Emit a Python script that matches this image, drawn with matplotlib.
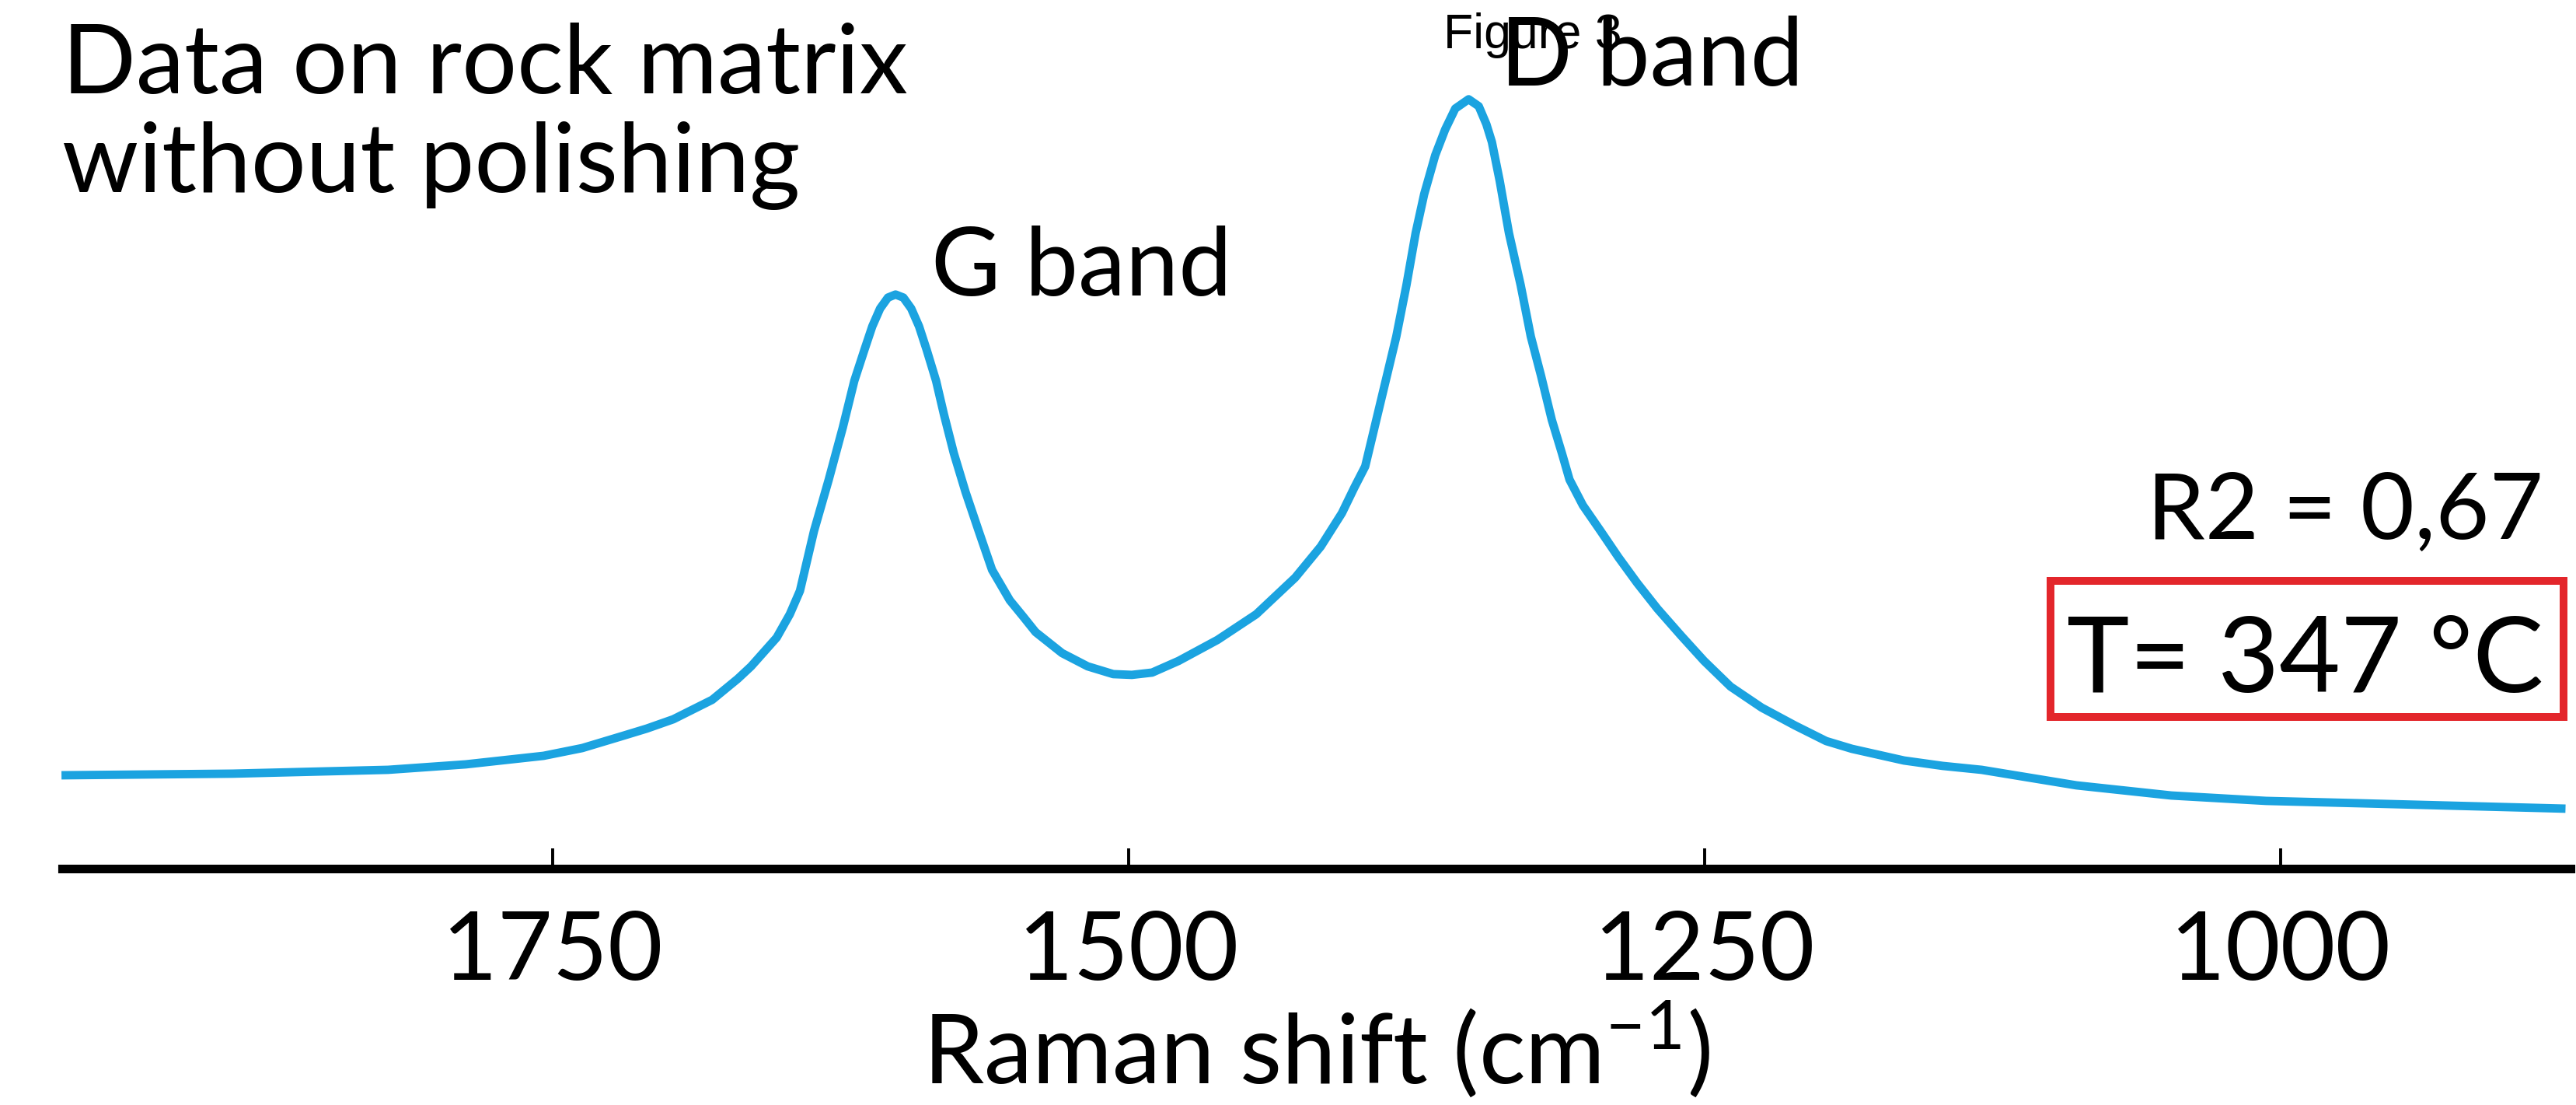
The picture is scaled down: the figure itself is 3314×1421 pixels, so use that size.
import matplotlib
matplotlib.use('Agg')
from matplotlib import pyplot as plt
from matplotlib.patches import Rectangle

plt.rcParams['font.family'] = ['Lato', 'DejaVu Sans']
plt.rcParams['mathtext.fontset'] = 'custom'
plt.rcParams['mathtext.rm'] = 'Lato'
plt.rcParams['mathtext.it'] = 'Lato'

# Raman spectrum (wavenumber in cm-1, intensity in a.u.)
shift = [1963.3, 1889.0, 1821.5, 1787.8, 1754.0, 1737.2, 1720.3, 1709.2, 1697.7,
         1680.8, 1669.7, 1663.9, 1652.8, 1647.1, 1642.7, 1636.6, 1630.2, 1624.1,
         1619.1, 1614.7, 1611.3, 1607.9, 1604.5, 1601.2, 1597.8, 1594.4, 1591.0,
         1587.7, 1583.6, 1580.2, 1575.9, 1570.8, 1565.1, 1559.3, 1551.6, 1545.8,
         1540.4, 1528.9, 1517.8, 1506.7, 1498.6, 1489.8, 1478.3, 1461.4, 1444.6,
         1427.7, 1416.6, 1407.4, 1402.0, 1397.3, 1390.6, 1383.8, 1379.4, 1375.4,
         1371.7, 1366.9, 1362.6, 1358.2, 1352.4, 1348.0, 1344.7, 1342.3, 1338.9,
         1334.9, 1329.8, 1325.4, 1321.0, 1316.3, 1311.9, 1308.6, 1302.8, 1295.1,
         1287.3, 1279.2, 1270.4, 1260.3, 1250.2, 1238.7, 1225.2, 1210.7, 1197.2,
         1186.0, 1163.4, 1146.6, 1129.7, 1088.5, 1047.3, 1006.2, 965.0, 876.2]
intensity = [12.13, 12.34, 12.84, 13.55, 14.66, 15.67, 17.19, 18.20, 19.41,
             21.94, 24.67, 26.29, 30.03, 33.06, 36.10, 43.88, 50.56, 57.33,
             63.40, 67.44, 70.48, 72.80, 74.22, 74.62, 74.22, 72.80, 70.48,
             67.44, 63.40, 59.05, 53.99, 48.94, 43.88, 38.83, 34.88, 32.76,
             30.74, 28.01, 26.29, 25.28, 25.18, 25.48, 27.00, 29.73, 33.06,
             37.82, 41.86, 46.21, 49.54, 52.28, 60.67, 69.16, 75.83, 82.61,
             87.66, 92.72, 96.06, 98.79, 100.0, 99.09, 96.76, 94.44, 89.38,
             82.61, 75.83, 69.16, 64.11, 58.34, 53.99, 50.56, 47.22, 43.88,
             40.44, 37.11, 33.77, 30.33, 27.00, 23.66, 20.93, 18.60, 16.58,
             15.57, 14.05, 13.35, 12.84, 10.82, 9.50, 8.80, 8.49, 7.79]

ticks = [1750, 1500, 1250, 1000]
r2_text = 'R2 = 0,67'
temp_text = 'T= 347 °C'

W, H = 3314, 1421
fig = plt.figure(figsize=(W / 100, H / 100), dpi=100)
ax = fig.add_axes([80 / W, 304 / H, (3307 - 80) / W, 1 - 304 / H])

ax.plot(shift, intensity, color='#1ba3e0', lw=7.8, solid_joinstyle='round',
        solid_capstyle='butt', clip_on=False)
ax.set_xlim(1963, 874)
ax.set_ylim(0, 112.9)

for s in ['top', 'left', 'right']:
    ax.spines[s].set_visible(False)
ax.spines['bottom'].set_linewidth(8)
ax.set_yticks([])
ax.set_xticks(ticks)
ax.tick_params(axis='x', direction='in', length=19, width=2.8, labelsize=88, pad=38)
ax.set_xlabel(r'Raman shift (cm$^{\mathregular{-1}}$)', fontsize=90, labelpad=3)

# annotations
fig.text(80 / W, 1 - 120 / H, 'Data on rock matrix', fontsize=90, va='baseline')
fig.text(80 / W, 1 - 247 / H, 'without polishing', fontsize=90, va='baseline')
fig.text(1198 / W, 1 - 380 / H, 'G band', fontsize=88, va='baseline')
fig.text(1930 / W, 1 - 110 / H, 'D band', fontsize=88, va='baseline')
fig.text(3272 / W, 1 - 693 / H, r2_text, fontsize=86, va='baseline', ha='right')
fig.text(3272 / W, 1 - 890 / H, temp_text, fontsize=98, va='baseline', ha='right')
fig.patches.append(Rectangle((2638 / W, 1 - 922 / H), (3298 - 2638) / W, (922 - 747) / H,
                             transform=fig.transFigure, fill=False,
                             edgecolor='#e3262b', lw=7.2))

fig.text(1857 / W, 1 - 62 / H, 'Figure 3', fontsize=45, va='baseline',
         family='Liberation Sans')

plt.savefig('out.png', dpi=100)
